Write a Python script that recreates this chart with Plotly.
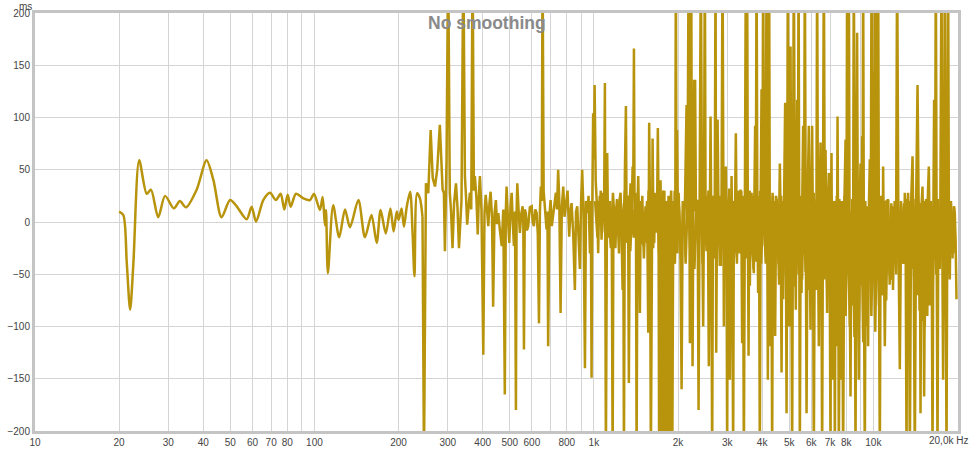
import plotly.graph_objects as go

LINE_COLOR = "#B8930C"

# 20 Hz - 244 Hz (smooth part)
LOW_FREQ_HZ = [20.0, 20.7, 21.3, 21.9, 22.5, 23.6, 25.1, 26.0, 27.6, 29.2, 31.4, 33.0, 34.7, 37.9,
               41.1, 43.5, 46.5, 49.9, 52.7, 57.2, 59.6, 61.8, 65.6, 69.3, 72.8, 75.7, 78.0, 80.2,
               82.2, 85.9, 91.3, 96.4, 99.6, 104.6, 107, 109, 110, 111.7, 116.7, 122.6, 128.6, 134,
               143.6, 151.6, 160, 167, 172.5, 180, 187, 192, 197, 200, 205, 209, 214, 220, 224.5,
               228, 233, 238.5, 243.6]
LOW_DELAY_MS = [10, 6.7, -39, -84, -39, 59, 27, 31, 4.5, 25, 13, 20, 14, 31,
                59, 40, 4.5, 21, 15, 2.6, 14.6, 0.3, 21, 28, 21, 27, 12, 26,
                14.6, 27, 22.6, 21, 27, 11.5, 24, -3, 11.5, -49, 16, -14.7, 12, -5,
                21, -14.6, 6.7, -20, 11.5, -11, 13, -9, 10, 2, 13, -4.5, 14.6, 29, -11,
                -52, 27.5, 22.6, 5]

# 244 Hz - 1 kHz
MID_FREQ_HZ = [243.6, 246.6, 250.6, 255.5, 260.5, 265, 270, 275, 281, 287.5, 290.5, 293, 297, 301,
               305, 308, 312, 316, 321, 325, 329, 333, 336, 341, 345.5, 349, 352, 356, 360, 364,
               368, 372, 375, 380, 384, 388, 391, 396, 402, 406, 410, 415, 419, 423, 427, 432,
               436, 441, 446, 450, 455, 461, 468, 474, 480, 484, 487, 492, 498, 503, 508, 512,
               517.5, 522, 526, 529, 532, 537, 543.5, 550, 556, 559, 562, 566, 571, 576, 582, 590,
               599, 604, 610, 617, 624, 630, 636, 641, 646, 651, 655, 661, 668, 672, 677, 682,
               686, 693, 700, 707, 715, 723, 731, 738, 745, 752, 760, 768, 777, 785, 794, 805,
               816, 824, 832, 843, 855, 863, 872, 881, 891, 900, 908, 918, 929, 937, 946, 957,
               968, 975, 981, 988, 994]
MID_DELAY_MS = [5, -230, 37, 27.5, 88, 42, 34, 50, 93, 31, 28, -28, 60, 260,
                28, 12, -25, 18, 37, 14, -25, 6, 21, 260, 44, 22, -2.5, 14, 28, 12,
                260, 30, 44, 22, -12, 28, 44, 12, -127, 8, 26, 10, -4, 18, 29, 4,
                -81, 8, 21, -2, 8.6, -8, -23, 12, -165, 10, 34, 6, -20, 14, 28, 2,
                -23, 10, -180, 10, 37, 14, -10.5, 8, 15, 0, -122, 12, 8.6, -8, -4, 14,
                15, 0, -4, 12, 8.6, -12, -97, 10, 34, 20, 260, 30, 15, -2, -7, 10,
                -119, 6, 21, -4, 5.5, 20, 28, 12, 50, 20, -87, 14, 34, 5, 18, 30,
                -14, 10, 18, -10, -65, 10, 15, -20, -45, 20, 50, 10, -140, 20, 8.6, 25,
                -30, 20, -149, 30, 104]

# 1 kHz - 20 kHz (spikes)
HIGH_FREQ_HZ = [1000, 1006, 1015, 1023, 1030, 1036, 1044, 1051, 1058, 1065, 1072, 1080, 1087, 1095,
                1104, 1110, 1116, 1125, 1134, 1142, 1150, 1158, 1167, 1175, 1182, 1194, 1206, 1214,
                1222, 1234, 1246, 1256, 1267, 1274, 1281, 1291, 1302, 1309, 1316, 1325, 1334, 1344,
                1353, 1365, 1376, 1383, 1391, 1398, 1405, 1414, 1422, 1432, 1441, 1451, 1461, 1471,
                1481, 1495, 1510, 1522, 1535, 1550, 1565, 1577, 1588, 1599, 1610, 1622, 1633, 1644,
                1655, 1667, 1680, 1694, 1703, 1712, 1722, 1732, 1740, 1748, 1756, 1764, 1772, 1780,
                1788, 1796, 1804, 1812, 1820, 1828, 1836, 1844, 1852, 1860, 1868, 1876, 1884, 1892,
                1900, 1908, 1916, 1925, 1935, 1945, 1955, 1965, 1975, 1985, 2000, 2010, 2020, 2040,
                2060, 2080, 2099, 2120, 2146, 2160, 2183, 2195, 2206, 2218, 2230, 2242, 2255, 2270,
                2285, 2295, 2303, 2317, 2342, 2355, 2369, 2390, 2414, 2438, 2461, 2478, 2495, 2512,
                2530, 2555, 2578, 2597, 2615, 2632, 2650, 2668, 2687, 2705, 2725, 2740, 2755, 2771,
                2790, 2807, 2823, 2840, 2860, 2887, 2900, 2918, 2935, 2950, 2967, 2983, 2999, 3015,
                3030, 3050, 3066, 3088, 3109, 3128, 3150, 3170, 3190, 3205, 3221, 3240, 3260, 3283,
                3305, 3328, 3349, 3370, 3393, 3415, 3441, 3470, 3498, 3517, 3536, 3555, 3577, 3597,
                3615, 3640, 3667, 3700, 3736, 3755, 3776, 3798, 3820, 3845, 3870, 3898, 3925, 3953,
                3981, 4008, 4034, 4062, 4091, 4120, 4149, 4170, 4193, 4215, 4238, 4262, 4287, 4315,
                4344, 4375, 4406, 4430, 4453, 4490, 4527, 4578, 4629, 4660, 4695, 4725, 4756, 4795,
                4836, 4865, 4892, 4918, 4944, 4970, 4997, 5025, 5055, 5088, 5122, 5158, 5194, 5237,
                5280, 5310, 5338, 5370, 5400, 5430, 5458, 5497, 5535, 5570, 5608, 5648, 5687, 5728,
                5768, 5823, 5878, 5920, 5961, 6000, 6040, 6083, 6125, 6176, 6227, 6260, 6294, 6338,
                6383, 6428, 6473, 6516, 6559, 6605, 6652, 6700, 6746, 6790, 6835, 6883, 6931, 6980,
                7029, 7058, 7086, 7115, 7145, 7200, 7240, 7283, 7330, 7386, 7420, 7447, 7490, 7527,
                7590, 7651, 7720, 7798, 7880, 7955, 8010, 8060, 8115, 8173, 8230, 8287, 8340, 8397,
                8455, 8514, 8575, 8635, 8690, 8750, 8810, 8873, 8935, 8998, 9055, 9117, 9150, 9193,
                9260, 9323, 9390, 9455, 9515, 9580, 9650, 9716, 9785, 9854, 9920, 9985, 10055, 10125,
                10195, 10268, 10335, 10404, 10480, 10551, 10625, 10699, 10770, 10841, 10915, 10993,
                11140, 11295, 11450, 11616, 11780, 11937, 12050, 12167, 12300, 12440, 12580, 12720,
                12840, 12963, 13050, 13147, 13230, 13320, 13410, 13508, 13660, 13813, 13940, 14076,
                14230, 14394, 14490, 14584, 14670, 14753, 14870, 14997, 15100, 15198, 15350, 15499,
                15650, 15797, 15910, 16019, 16150, 16287, 16400, 16503, 16620, 16736, 16850, 16972,
                17080, 17197, 17370, 17540, 17650, 17770, 17900, 18021, 18150, 18276, 18400, 18515,
                18650, 18778, 18910, 19043, 19170, 19294, 19430, 19567, 19700, 19844]
HIGH_DELAY_MS = [60, 131, 40, 18, 5, -30, 20, 8.6, 30, -17, 10, 28, 0, 133,
                 -230, 20, 66, -15, -4, 20, -20, 10, -230, 15, 8.6, -25, 15, -10,
                 -7, 20, 28, -10, -65, 10, -230, 47, 111, 10, -10.5, 25, -154, 20,
                 37, 10, 53, 30, 166, 10, 8.6, 20, -230, 10, 44, 0, -87, 20,
                 15, -20, -23, 10, 2, 20, -106, 95, 10, -230, 15, 80, 0, -20,
                 20, 8.6, -10, 90, 20, -230, 20, 40, -20, -230, 20, -230, -10, -230,
                 30, -230, -40, -230, 10, -230, -20, -230, 15, -230, -60, -230, 5, -230,
                 -30, -230, -100, 20, -40, 30, -10, 260, 20, 88, -10, 20, 8.6, -30,
                 -160, 20, -10.5, 25, 112, 0, 260, 20, -116, 10, 260, 10, -138, 20,
                 136, 10, 136, 20, 21, -30, -180, 20, 260, 10, -100, 20, 260, -20,
                 2, 25, -138, 15, 101, -10, -230, 10, 25, -20, 260, -125, 10, 98,
                 20, -36, -42, 25, -10, 260, 10, -100, 20, -20, 53, 0, -230, 20,
                 -40, 25, -151, 20, 44, -20, -230, 20, -30, 30, 85, 10, -30, -7,
                 30, -20, 31, 0, -116, 25, -230, 20, 260, -20, 260, 10, -128, 20,
                 -61, 20, 28, -30, -49, 30, 92, 10, 260, 20, -68, 25, -230, 20,
                 127, -10, 260, 20, -23, 25, 260, 10, -151, 20, 260, -20, -119, 20,
                 -230, 25, -23, 20, -109, 25, 12, -40, 56, 0, -144, 20, -74, 25,
                 114, -10, -183, 20, 260, 10, -100, 25, 168, -20, -230, 25, 260, 10,
                 -84, 25, 117, -20, 260, 10, -230, 20, -68, 25, 92, -20, 260, 10,
                 -183, 25, 92, -30, -103, 25, 92, -20, -230, 20, -65, 25, 260, -20,
                 -119, 20, 76, -30, -230, 20, 260, 10, 69, -30, -87, 20, 47, -40,
                 -230, 20, 66, -60, -151, -50, 20, -230, 20, -119, 30, 101, -40, -230,
                 10, -151, 15, -230, 20, 79, -40, 260, -30, 260, -60, -167, 10, -23,
                 -80, 260, -50, -230, 20, 181, -40, -151, 15, 56, -60, 82, -20, 260,
                 -70, -230, 10, -74, 15, -119, 20, 60, -40, 260, -20, 143, -50, 260,
                 -30, 260, -40, 260, -60, -230, 20, -42, -70, 53, -30, -119,
                 20, 21, -50, -55, 15, -17, -40, 260, -20, -141, 15, -30,
                 -40, 28, -20, -230, 10, 28, -30, -230, 20, 63, -30, -230,
                 20, 131, 5, -30, 10, -183, 15, 34, -20, -167, 15, -23,
                 20, 53, -20, -10.5, 15, -230, 10, 117, -20, 260, -20, -230,
                 10, -23, 15, 260, -20, -151, 10, 260, -20, -230, 10, 260,
                 -20, -55, 15, 2, -30, -23, 15, 8.6, -20, -74]

# 1 kHz - 20 kHz (dense noise band between the spikes)
BAND_FREQ_HZ = [1010, 1030, 1050, 1070, 1090, 1110, 1130, 1150, 1170, 1190,
                1210, 1230, 1250, 1270, 1290, 1310, 1330, 1350, 1370, 1390,
                1410, 1430, 1450, 1470, 1490, 1510, 1530, 1550, 1570, 1590,
                1610, 1630, 1650, 1670, 1690, 1710, 1730, 1750, 1770, 1790,
                1810, 1830, 1850, 1870, 1890, 1910, 1930, 1950, 1970, 1990,
                2010, 2050, 2090, 2130, 2170, 2210, 2250, 2290, 2330, 2370,
                2410, 2450, 2490, 2530, 2570, 2610, 2650, 2690, 2730, 2770,
                2810, 2850, 2890, 2930, 2970, 3010, 3050, 3090, 3130, 3170,
                3210, 3250, 3290, 3330, 3370, 3410, 3450, 3490, 3530, 3570,
                3610, 3650, 3690, 3730, 3770, 3810, 3850, 3890, 3930, 3970,
                4040, 4120, 4200, 4280, 4360, 4440, 4520, 4600, 4680, 4760,
                4840, 4920, 5000, 5080, 5160, 5240, 5320, 5400, 5480, 5560,
                5640, 5720, 5800, 5880, 5960, 6040, 6120, 6200, 6280, 6360,
                6440, 6520, 6600, 6680, 6760, 6840, 6920, 7000, 7080, 7160,
                7240, 7320, 7400, 7480, 7560, 7640, 7720, 7800, 7880, 7960,
                8080, 8240, 8400, 8560, 8720, 8880, 9040, 9200, 9360, 9520,
                9680, 9840, 10000, 10160, 10320, 10480, 10640, 10800, 10960, 11120,
                11280, 11440, 11600, 11760, 11920, 12080, 12240, 12400, 12560, 12720,
                12880, 13040, 13200, 13360, 13520, 13680, 13840, 14000, 14160, 14320,
                14480, 14640, 14800, 14960, 15120, 15280, 15440, 15600, 15760, 15920,
                16080, 16320, 16560, 16800, 17040, 17280, 17520, 17760, 18000, 18240,
                18480, 18720, 18960, 19200, 19440, 19680]
BAND_DELAY_MS = [20, -15, 25, -10, 30, -20, 15, -25, 28, -5,
                 22, -30, 18, -12, 30, -20, 25, -28, 12, -15,
                 28, -30, 20, -10, 25, -35, 15, -20, 30, -15,
                 22, -25, 28, -10, 18, -30, 25, -20, 30, -12,
                 20, -35, 25, -15, 30, -25, 15, -40, 20, -30,
                 28, -35, 20, -40, 30, -25, 25, -45, 18, -30,
                 32, -40, 22, -28, 30, -45, 25, -35, 28, -20,
                 20, -42, 30, -38, 25, -30, 32, -45, 18, -35,
                 28, -40, 22, -30, 30, -48, 25, -35, 20, -42,
                 30, -30, 25, -45, 28, -38, 22, -35, 30, -40,
                 25, -40, 20, -55, 28, -45, 22, -60, 25, -50,
                 30, -58, 20, -45, 28, -62, 22, -50, 25, -55,
                 30, -48, 20, -65, 25, -52, 28, -45, 22, -60,
                 25, -70, 20, -55, 28, -65, 22, -75, 25, -60,
                 20, -80, 25, -70, 22, -85, 20, -75, 25, -90,
                 20, -100, 22, -110, 18, -95, 25, -115, 20, -100,
                 22, -90, 18, -105, 20, -80, 25, -70, 20, -75,
                 22, -60, 18, -65, 20, -50, 22, -45, 20, -40,
                 18, -35, 22, -40, 20, -45, 18, -55, 22, -70,
                 20, -85, 18, -95, 20, -100, 22, -90, 20, -80,
                 20, -60, 18, -50, 22, -45, 20, -40, 18, -35,
                 22, -30, 20, -35, 15, -30]

X_TICK_VALUES = [10, 20, 30, 40, 50, 60, 70, 80, 90, 100, 200, 300, 400, 500, 600, 700, 800, 900,
                 1000, 2000, 3000, 4000, 5000, 6000, 7000, 8000, 9000, 10000, 20000]
X_TICK_TEXT = ["10", "20", "30", "40", "50", "60", "70", "80", "", "100", "200", "300", "400",
               "500", "600", "", "800", "", "1k", "2k", "3k", "4k", "5k", "6k", "7k", "8k", "",
               "10k", ""]
Y_TICK_VALUES = [-200, -150, -100, -50, 0, 50, 100, 150, 200]

rest_f = MID_FREQ_HZ + HIGH_FREQ_HZ
rest_d = MID_DELAY_MS + HIGH_DELAY_MS

fig = go.Figure()
fig.add_trace(go.Scatter(x=BAND_FREQ_HZ, y=BAND_DELAY_MS, mode="lines",
                         line=dict(color=LINE_COLOR, width=2.5),
                         hoverinfo="skip", showlegend=False))
fig.add_trace(go.Scatter(x=LOW_FREQ_HZ, y=LOW_DELAY_MS, mode="lines",
                         line=dict(color=LINE_COLOR, width=2.5, shape="spline", smoothing=0.8),
                         hoverinfo="skip", showlegend=False))
fig.add_trace(go.Scatter(x=rest_f, y=rest_d, mode="lines",
                         line=dict(color=LINE_COLOR, width=2.5),
                         hoverinfo="skip", showlegend=False))

axis_common = dict(showgrid=True, gridcolor="#D4D4D4", gridwidth=1, showline=True,
                   linecolor="#C4C4C4", linewidth=3, mirror=True, zeroline=False, ticks="",
                   automargin=False,
                   tickfont=dict(family="Liberation Sans", size=10, color="#444444"))

fig.update_xaxes(type="log", range=[1, 4.303], tickmode="array", tickvals=X_TICK_VALUES,
                 ticktext=X_TICK_TEXT, **axis_common)
fig.update_yaxes(range=[-200, 200], tickmode="array", tickvals=Y_TICK_VALUES, **axis_common)

fig.add_annotation(text="<b>No smoothing</b>", xref="paper", yref="paper", x=0.49, y=0.976,
                   xanchor="center", yanchor="middle", showarrow=False,
                   font=dict(family="Liberation Sans", size=17.5, color="#8A8A8A"))
fig.add_annotation(text="ms", xref="paper", yref="paper", x=-0.0098, y=1.0165,
                   xanchor="center", yanchor="middle", showarrow=False,
                   font=dict(family="Liberation Sans", size=10, color="#444444"))
fig.add_annotation(text="20,0k Hz", xref="paper", yref="paper", x=1.0135, y=-0.0235,
                   xanchor="right", yanchor="middle", showarrow=False,
                   font=dict(family="Liberation Sans", size=10, color="#444444"))

fig.update_layout(width=975, height=450, margin=dict(l=35, r=17, t=13, b=19, autoexpand=False),
                  paper_bgcolor="white", plot_bgcolor="white", showlegend=False)

fig.write_html("out.html", config={"displayModeBar": False},
               post_script="document.body.style.margin='0px';document.body.style.overflow='hidden';")
